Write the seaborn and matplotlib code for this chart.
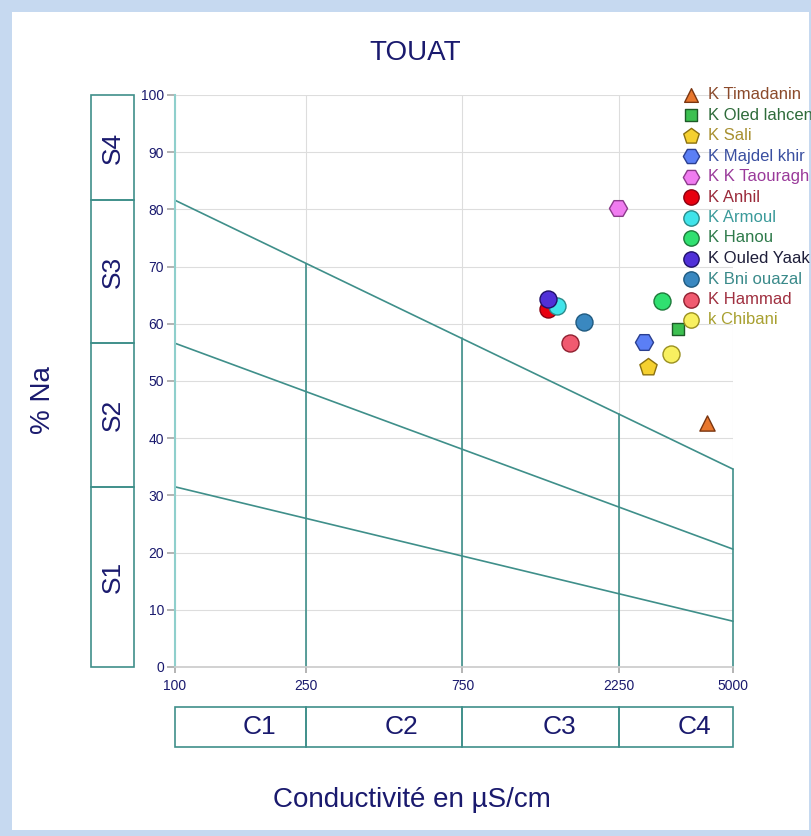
import matplotlib
matplotlib.use("Agg")
import matplotlib.pyplot as plt
from matplotlib.patches import Rectangle
from matplotlib.ticker import NullLocator
import seaborn as sns
import pandas as pd

# ---------------- data ----------------
sites = ["K Timadanin", "K Oled lahcen", "K Sali", "K Majdel khir", "K K Taouragh",
         "K Anhil", "K Armoul", "K Hanou", "K Ouled Yaak", "K Bni ouazal",
         "K Hammad", "k Chibani"]
conductivity = [4160, 3410, 2750, 2670, 2230, 1370, 1460, 3030, 1365, 1760, 1590, 3240]
na_percent = [42.6, 59.1, 52.5, 56.8, 80.2, 62.6, 63.1, 63.9, 64.4, 60.3, 56.6, 54.8]
markers = ["^", "s", "p", "H", "H", "o", "o", "o", "o", "o", "o", "o"]
face_colors = ["#e8772e", "#3cc050", "#f5d030", "#5b7ff5", "#f07cf0", "#e8000f",
               "#40e4ea", "#30e070", "#5030d8", "#3a88c0", "#f05a70", "#f8f060"]
edge_colors = ["#7a3510", "#1d5a28", "#8a7010", "#2a3f90", "#8a3a8a", "#8a0010",
               "#2a8a8a", "#1d7a3a", "#20106a", "#1f5a80", "#902030", "#9a9020"]
text_colors = ["#8b4a2b", "#2e6b3a", "#a89030", "#3a4fa0", "#9a3a9a", "#9a2a3a",
               "#3a9a9a", "#2e7a4a", "#1e1e3a", "#3a8a8a", "#a03040", "#a8a030"]
marker_sizes = [120, 80, 170, 170, 170, 150, 150, 150, 150, 150, 150, 150]

x_ticks = [100, 250, 750, 2250, 5000]
x_ticklabels = ["100", "250", "750", "2250", "5000"]
y_ticks = [0, 10, 20, 30, 40, 50, 60, 70, 80, 90, 100]

# classification lines (value at 100 and at 5000 µS/cm)
line_left = [81.6, 56.6, 31.5]
line_right = [34.6, 20.6, 8.0]
# vertical class boundaries and their top value (on the upper diagonal)
v_bounds = [250, 750, 2250, 5000]
v_tops = [70.5, 57.5, 44.2, 34.6]

s_bounds = [0, 31.5, 56.6, 81.6, 100]
s_labels = ["S1", "S2", "S3", "S4"]
c_bounds = [100, 250, 750, 2250, 5000]
c_labels = ["C1", "C2", "C3", "C4"]
c_label_pos = [181, 491, 1476, 3803]

df = pd.DataFrame({"site": sites, "cond": conductivity, "na": na_percent})

# ---------------- style ----------------
sns.set_theme(style="white")
plt.rcParams["font.family"] = ["Liberation Sans", "DejaVu Sans"]
NAVY = "#1a1a6e"
TEAL = "#3f8f8a"

W, H = 812, 836
fig = plt.figure(figsize=(W / 100, H / 100), dpi=100)
fig.patch.set_facecolor("#c6d9f0")
fig.add_artist(Rectangle((12 / W, 6 / H), (809 - 12) / W, (824 - 6) / H,
                         transform=fig.transFigure, facecolor="white",
                         edgecolor="none", zorder=-10))

ax = fig.add_axes([175 / W, (H - 667) / H, 558 / W, 572 / H])
ax.set_facecolor("none")
ax.set_xscale("log")
ax.set_xlim(100, 5000)
ax.set_ylim(0, 100)
ax.set_xticks(x_ticks)
ax.set_xticklabels(x_ticklabels)
ax.xaxis.set_minor_locator(NullLocator())
ax.set_yticks(y_ticks)
ax.grid(True, color="#dddddd", lw=0.8)
ax.set_axisbelow(True)
for sp in ["top", "right"]:
    ax.spines[sp].set_visible(False)
ax.spines["left"].set_color("#8fcfcc")
ax.spines["left"].set_linewidth(1.5)
ax.spines["bottom"].set_color("#cccccc")
ax.tick_params(axis="y", left=True, length=6, color="#aaaaaa", pad=2,
               labelsize=10, labelcolor=NAVY)
ax.tick_params(axis="x", bottom=True, length=4, color="#aaaaaa", pad=5,
               labelsize=10, labelcolor=NAVY)

# classification lines
for yl, yr in zip(line_left, line_right):
    ax.plot([100, 5000], [yl, yr], color=TEAL, lw=1.2, zorder=2, clip_on=False)
for xv, yt in zip(v_bounds, v_tops):
    ax.plot([xv, xv], [0, yt], color=TEAL, lw=1.2, zorder=2, clip_on=False)

# points
for i, s in enumerate(sites):
    sub = df[df["site"] == s]
    sns.scatterplot(data=sub, x="cond", y="na", marker=markers[i], s=marker_sizes[i],
                    color=face_colors[i], edgecolor=edge_colors[i], linewidth=1.0,
                    ax=ax, label=s, zorder=5, clip_on=False)
ax.set_xlabel("")
ax.set_ylabel("")

handles, labels = ax.get_legend_handles_labels()
leg = ax.legend(handles, labels, loc="upper left",
                bbox_to_anchor=(683 / W, (H - 87) / H), bbox_transform=fig.transFigure,
                frameon=False, fontsize=12, labelspacing=0.33, handletextpad=0.5,
                handlelength=1.0, borderaxespad=0, borderpad=0, markerscale=0.9)
for t, c in zip(leg.get_texts(), text_colors):
    t.set_color(c)

# S boxes
axS = fig.add_axes([91 / W, (H - 667) / H, 43 / W, 572 / H])
axS.set_xlim(0, 1)
axS.set_ylim(0, 100)
axS.axis("off")
for lo, hi, lab in zip(s_bounds[:-1], s_bounds[1:], s_labels):
    axS.add_patch(Rectangle((0, lo), 1, hi - lo, facecolor="none", edgecolor=TEAL,
                            lw=1.2, clip_on=False))
    axS.text(0.5, (lo + hi) / 2, lab, rotation=90, ha="center", va="center",
             fontsize=19, color=NAVY)

# C boxes
axC = fig.add_axes([175 / W, (H - 747) / H, 558 / W, 40 / H])
axC.set_xscale("log")
axC.set_xlim(100, 5000)
axC.set_ylim(0, 1)
axC.axis("off")
for lo, hi, lab, xp in zip(c_bounds[:-1], c_bounds[1:], c_labels, c_label_pos):
    axC.add_patch(Rectangle((lo, 0), hi - lo, 1, facecolor="none", edgecolor=TEAL,
                            lw=1.2, clip_on=False))
    axC.text(xp, 0.5, lab, ha="center", va="center", fontsize=19, color=NAVY)

# titles
fig.text(415 / W, 1 - 53 / H, "TOUAT", ha="center", va="center", fontsize=20, color=NAVY)
fig.text(43 / W, 1 - 400 / H, "% Na", rotation=90, ha="center", va="center",
         fontsize=20, color=NAVY)
fig.text(412 / W, 1 - 800 / H, "Conductivité en µS/cm", ha="center", va="center",
         fontsize=20, color=NAVY)

fig.savefig("out.png", dpi=100, facecolor=fig.get_facecolor())
